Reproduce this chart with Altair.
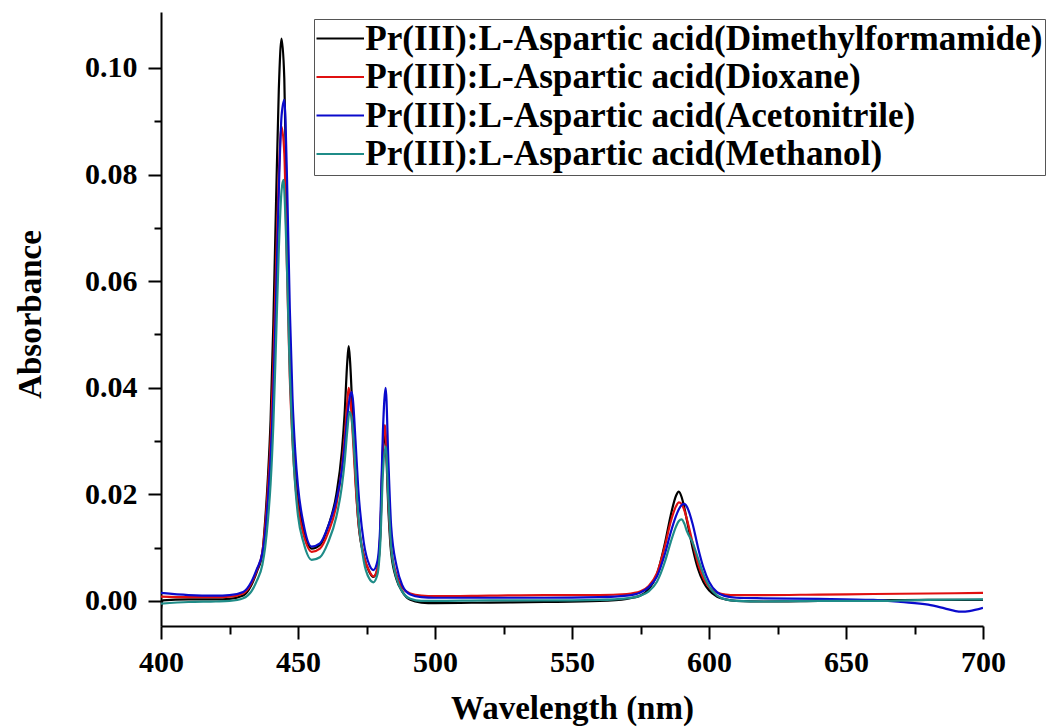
import altair as alt
import pandas as pd

# ---------------- data ----------------
series_names = [
    "Pr(III):L-Aspartic acid(Dimethylformamide)",
    "Pr(III):L-Aspartic acid(Dioxane)",
    "Pr(III):L-Aspartic acid(Acetonitrile)",
    "Pr(III):L-Aspartic acid(Methanol)",
]
series_colors = ["#000000", "#E01010", "#0A0ACC", "#1F8C88"]

wl_dmf = [400, 400.6, 410, 420, 425, 430, 433, 435, 437, 438, 439, 440, 441, 442, 443, 444, 445, 446, 447, 448,
          449, 450, 452, 455, 458, 461, 464, 466, 467, 468, 468.5, 469, 470, 471, 472, 474, 476, 477.5, 479, 480,
          481, 481.7, 482, 483, 484, 486, 488, 491, 495, 500, 520, 540, 560, 570, 575, 578, 581, 584, 586, 588,
          589, 590, 591, 592, 594, 596, 598, 600, 603, 606, 610, 620, 640, 660, 680, 700]
abs_dmf = [-0.0015, 0.0001, 0.0003, 0.0003, 0.0004, 0.0010, 0.0030, 0.0055, 0.0090, 0.0150, 0.0230, 0.0340,
           0.0520, 0.0750, 0.0960, 0.1055, 0.0980, 0.0700, 0.0460, 0.0320, 0.0240, 0.0190, 0.0135, 0.0098,
           0.0105, 0.0140, 0.0200, 0.0280, 0.0350, 0.0450, 0.0478, 0.0450, 0.0340, 0.0230, 0.0150, 0.0085,
           0.0055, 0.0045, 0.0060, 0.0120, 0.0280, 0.0315, 0.0300, 0.0170, 0.0090, 0.0040, 0.0018, 0.0002,
           -0.0003, -0.0004, -0.0003, -0.0002, 0.0000, 0.0004, 0.0010, 0.0022, 0.0050, 0.0110, 0.0160, 0.0198,
           0.0205, 0.0195, 0.0175, 0.0150, 0.0100, 0.0060, 0.0035, 0.0020, 0.0008, 0.0003, 0.0000, -0.0001,
           0.0000, 0.0001, 0.0002, 0.0002]

wl_diox = [400, 410, 420, 425, 430, 433, 435, 437, 438, 439, 440, 441, 442, 443, 444, 445, 446, 447, 448, 449,
           450, 452, 455, 458, 461, 464, 466, 467, 468, 468.5, 469, 470, 471, 472, 474, 476, 477.5, 479, 480, 481,
           481.7, 482, 483, 484, 486, 488, 491, 495, 500, 520, 540, 560, 570, 575, 578, 581, 584, 586, 588, 589,
           590, 591, 592, 594, 596, 598, 600, 603, 606, 610, 620, 640, 660, 680, 700]
abs_diox = [0.0008, 0.0007, 0.0007, 0.0008, 0.0014, 0.0033, 0.0058, 0.0092, 0.0140, 0.0210, 0.0300, 0.0440,
            0.0630, 0.0800, 0.0890, 0.0840, 0.0620, 0.0420, 0.0300, 0.0220, 0.0175, 0.0125, 0.0092, 0.0098,
            0.0128, 0.0180, 0.0250, 0.0305, 0.0375, 0.0400, 0.0385, 0.0310, 0.0220, 0.0150, 0.0085, 0.0056,
            0.0046, 0.0062, 0.0125, 0.0290, 0.0330, 0.0315, 0.0185, 0.0100, 0.0048, 0.0025, 0.0014, 0.0010,
            0.0009, 0.0010, 0.0011, 0.0011, 0.0013, 0.0018, 0.0028, 0.0052, 0.0105, 0.0148, 0.0178, 0.0185,
            0.0182, 0.0170, 0.0152, 0.0110, 0.0070, 0.0042, 0.0026, 0.0016, 0.0012, 0.0011, 0.0011, 0.0012,
            0.0013, 0.0014, 0.0015]

wl_acn = [400, 410, 420, 425, 430, 433, 435, 437, 438, 439, 440, 441, 442, 443, 444, 445, 446, 447, 448, 449,
          450, 452, 455, 458, 461, 464, 466, 467, 468, 469, 469.6, 470, 471, 472, 474, 476, 477.5, 479, 480, 481,
          482, 483, 484, 486, 488, 491, 495, 500, 520, 540, 560, 570, 575, 578, 581, 584, 586, 588, 589, 590,
          591, 592, 594, 596, 598, 600, 603, 606, 610, 620, 640, 660, 670, 680, 686, 690, 692, 695, 700]
abs_acn = [0.0015, 0.0011, 0.0010, 0.0011, 0.0017, 0.0036, 0.0060, 0.0090, 0.0125, 0.0190, 0.0270, 0.0390,
           0.0570, 0.0770, 0.0910, 0.0940, 0.0790, 0.0550, 0.0380, 0.0280, 0.0215, 0.0145, 0.0102, 0.0108,
           0.0140, 0.0190, 0.0245, 0.0290, 0.0345, 0.0385, 0.0392, 0.0380, 0.0300, 0.0210, 0.0110, 0.0068,
           0.0058, 0.0075, 0.0140, 0.0320, 0.0400, 0.0260, 0.0140, 0.0065, 0.0030, 0.0012, 0.0007, 0.0006,
           0.0006, 0.0006, 0.0007, 0.0010, 0.0016, 0.0026, 0.0046, 0.0090, 0.0128, 0.0160, 0.0172, 0.0180,
           0.0182, 0.0176, 0.0145, 0.0100, 0.0062, 0.0036, 0.0016, 0.0009, 0.0006, 0.0005, 0.0004, 0.0002,
           -0.0002, -0.0007, -0.0014, -0.0019, -0.0020, -0.0019, -0.0013]

wl_meoh = [400, 410, 420, 425, 430, 433, 435, 437, 438, 439, 440, 441, 442, 443, 444, 444.7, 445, 446, 447, 448,
           449, 450, 452, 455, 458, 461, 464, 466, 467, 468, 468.8, 469.5, 470, 471, 472, 474, 476, 477.5, 479,
           480, 481, 482, 483, 484, 486, 488, 491, 495, 500, 520, 540, 560, 570, 575, 578, 581, 584, 586, 588,
           589, 590, 591, 592, 594, 596, 598, 600, 603, 606, 610, 620, 640, 660, 680, 700]
abs_meoh = [-0.0005, -0.0002, -0.0001, 0.0000, 0.0005, 0.0018, 0.0038, 0.0068, 0.0100, 0.0150, 0.0220, 0.0330,
            0.0490, 0.0660, 0.0770, 0.0790, 0.0770, 0.0620, 0.0430, 0.0300, 0.0215, 0.0160, 0.0110, 0.0077,
            0.0082, 0.0110, 0.0158, 0.0215, 0.0260, 0.0320, 0.0355, 0.0345, 0.0320, 0.0240, 0.0160, 0.0075,
            0.0042, 0.0035, 0.0050, 0.0105, 0.0240, 0.0290, 0.0190, 0.0100, 0.0042, 0.0018, 0.0004, 0.0000,
            0.0000, 0.0001, 0.0001, 0.0002, 0.0005, 0.0010, 0.0018, 0.0036, 0.0075, 0.0110, 0.0140, 0.0150,
            0.0153, 0.0145, 0.0130, 0.0110, 0.0080, 0.0050, 0.0028, 0.0010, 0.0003, 0.0000, -0.0001, 0.0000,
            0.0000, 0.0002, 0.0003]

x_tick_values = [400, 425, 450, 475, 500, 525, 550, 575, 600, 625, 650, 675, 700]
y_tick_values = [0.00, 0.01, 0.02, 0.03, 0.04, 0.05, 0.06, 0.07, 0.08, 0.09, 0.10]

# ---------------- build table ----------------
frames = []
for name, wl, ab in zip(series_names, [wl_dmf, wl_diox, wl_acn, wl_meoh],
                        [abs_dmf, abs_diox, abs_acn, abs_meoh]):
    frames.append(pd.DataFrame({"Wavelength": wl, "Absorbance": ab, "Series": name}))
df = pd.concat(frames, ignore_index=True)

FONT = "Liberation Serif"

x_axis = alt.Axis(
    values=x_tick_values,
    labelExpr="datum.value % 50 === 0 ? datum.label : ''",
    tickSize={"condition": {"test": "datum.value % 50 === 0", "value": 13}, "value": 8},
    labelPadding=8,
    labelFlush=False,
    grid=False,
    titleY=92,
    titleBaseline="alphabetic",
)
y_axis = alt.Axis(
    values=y_tick_values,
    format=".2f",
    labelExpr="round(datum.value * 100) % 2 === 0 ? datum.label : ''",
    tickSize={"condition": {"test": "round(datum.value * 100) % 2 === 0", "value": 13}, "value": 7},
    labelPadding=11,
    labelFlush=False,
    grid=False,
    titleX=-131,
    titleY=302,
    titleBaseline="middle",
)

chart = alt.Chart(df).mark_line(strokeWidth=2.2, interpolate="monotone", clip=True).encode(
    x=alt.X("Wavelength:Q", title="Wavelength (nm)",
            scale=alt.Scale(domain=[400, 700], nice=False, zero=False), axis=x_axis),
    y=alt.Y("Absorbance:Q", title="Absorbance",
            scale=alt.Scale(domain=[-0.0047, 0.1105], nice=False, zero=False), axis=y_axis),
    color=alt.Color("Series:N", scale=alt.Scale(domain=series_names, range=series_colors),
                    legend=alt.Legend(title=None, orient="none", legendX=153, legendY=7)),
    order=alt.Order("Wavelength:Q"),
).properties(
    width=822,
    height=614,
    autosize=alt.AutoSizeParams(type="none"),
    padding={"left": 161, "top": 12, "right": 64, "bottom": 101},
    background="white",
).configure_view(
    stroke=None
).configure_axis(
    domainColor="black",
    domainWidth=2,
    tickColor="black",
    tickWidth=2,
    labelFont=FONT,
    labelFontWeight="bold",
    labelFontSize=30,
    labelColor="black",
    titleFont=FONT,
    titleFontWeight="bold",
    titleFontSize=33,
    titleColor="black",
).configure_legend(
    labelFont=FONT,
    labelFontWeight="bold",
    labelFontSize=35.2,
    labelColor="black",
    labelLimit=1000,
    labelOffset=14,
    symbolType="M-1.8,0H3.2",
    symbolSize=361,
    symbolStrokeWidth=2,
    rowPadding=2.5,
    padding=2,
    strokeColor="#555555",
    fillColor="white",
)

chart.save("out.html", embed_options={"renderer": "svg", "actions": False})
